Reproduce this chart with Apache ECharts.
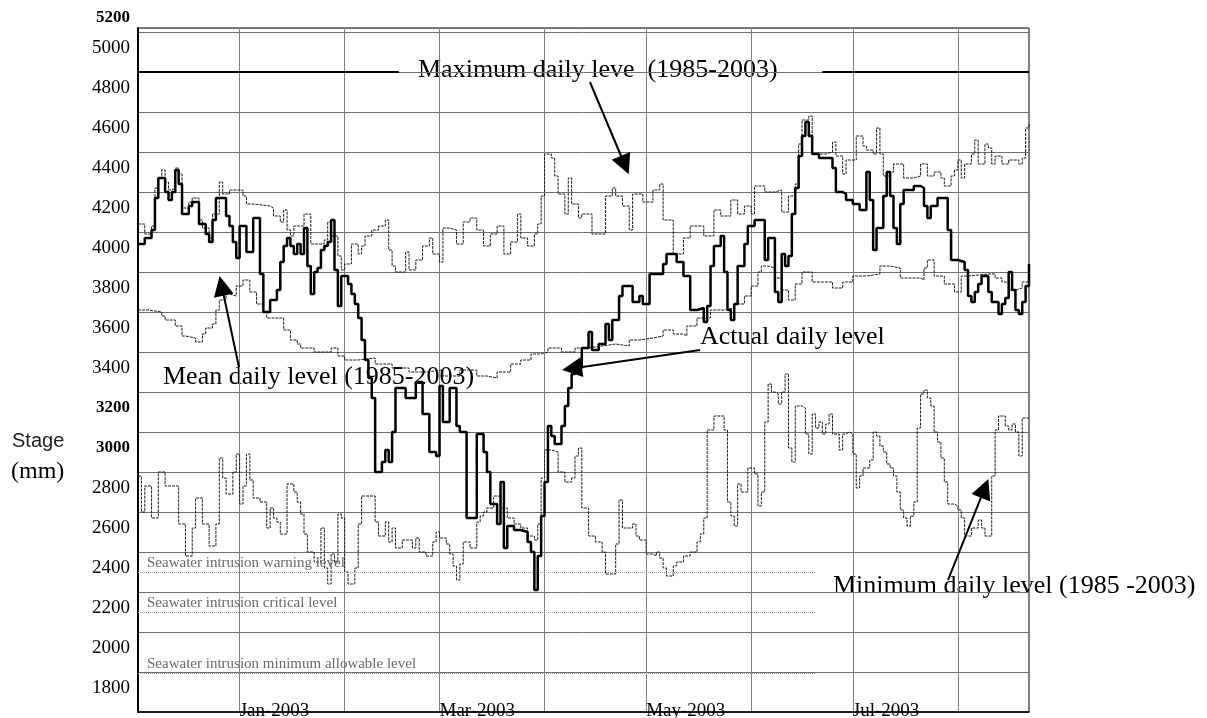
<!DOCTYPE html>
<html>
<head>
<meta charset="utf-8">
<script src="https://cdn.jsdelivr.net/npm/echarts@6/dist/echarts.min.js"></script>
<style>
  html, body { margin: 0; padding: 0; background: #fff; }
  #chart { width: 1207px; height: 718px; }
</style>
</head>
<body>
<div id="chart"></div>
<script>
// days counted from 2 Dec 2002, levels in mm
let actualDays = [0, 2, 4, 5, 6, 8, 9, 10, 11, 12, 13, 15, 16, 18, 20, 21, 22, 23, 26, 27, 28, 29, 30, 32, 34, 36, 37, 39, 41, 42, 43, 44, 45, 46, 47, 48, 49, 50, 51, 52, 53, 54, 55, 56, 57, 58, 59, 60, 62, 63, 64, 65, 66, 67, 68, 69, 70, 72, 73, 74, 75, 76, 79, 82, 84, 86, 88, 89, 90, 92, 94, 95, 97, 100, 102, 103, 104, 106, 107, 108, 109, 111, 113, 115, 116, 117, 118, 119, 120, 121, 122, 123, 125, 126, 127, 128, 129, 131, 133, 134, 136, 138, 139, 140, 142, 143, 146, 148, 149, 151, 155, 156, 159, 161, 163, 165, 167, 168, 169, 170, 172, 173, 174, 175, 176, 177, 179, 180, 182, 185, 186, 188, 189, 190, 191, 192, 193, 194, 195, 196, 197, 198, 199, 201, 203, 205, 206, 208, 209, 211, 213, 215, 216, 217, 218, 220, 221, 222, 223, 224, 225, 226, 229, 231, 232, 233, 234, 236, 239, 240, 242, 244, 245, 246, 247, 248, 249, 251, 252, 254, 255, 256, 257, 258, 259, 260, 261, 262, 263]
let actualLevels = [4020, 4050, 4090, 4250, 4350, 4280, 4240, 4280, 4390, 4320, 4170, 4210, 4230, 4120, 4070, 4030, 4140, 4250, 4160, 4110, 4030, 3950, 4110, 3980, 4150, 3870, 3680, 3740, 3790, 3930, 4010, 4050, 4010, 3970, 4020, 3970, 4100, 3910, 3770, 3880, 3900, 3990, 4010, 4030, 4140, 3890, 3710, 3860, 3820, 3770, 3720, 3650, 3540, 3440, 3350, 3250, 2880, 2930, 2990, 2930, 3080, 3300, 3250, 3330, 3170, 2980, 2960, 3310, 3130, 3300, 3110, 3080, 2650, 3070, 2980, 2880, 2720, 2620, 2830, 2500, 2610, 2590, 2580, 2530, 2480, 2290, 2460, 2660, 2830, 3110, 3060, 3020, 3110, 3210, 3300, 3370, 3400, 3500, 3580, 3490, 3520, 3620, 3540, 3640, 3760, 3810, 3730, 3760, 3720, 3870, 3920, 3970, 3930, 3860, 3690, 3700, 3630, 3710, 3910, 4010, 4060, 3880, 3690, 3640, 3720, 3910, 4020, 4110, 4140, 3940, 4050, 3780, 3730, 3970, 3910, 3960, 4170, 4300, 4460, 4560, 4630, 4560, 4470, 4450, 4450, 4400, 4280, 4270, 4240, 4220, 4190, 4380, 4240, 3990, 4100, 4260, 4380, 4260, 4100, 4020, 4220, 4290, 4310, 4300, 4210, 4150, 4210, 4250, 4090, 3940, 3930, 3890, 3760, 3730, 3780, 3820, 3860, 3780, 3730, 3670, 3720, 3750, 3880, 3790, 3690, 3670, 3730, 3810, 3920]

let maxDays = [0, 2, 4, 5, 6, 7, 8, 9, 10, 11, 12, 13, 15, 16, 18, 19, 21, 22, 24, 25, 27, 31, 32, 34, 39, 40, 42, 43, 44, 45, 46, 49, 51, 55, 56, 57, 59, 60, 61, 63, 65, 66, 67, 69, 71, 73, 74, 75, 76, 79, 80, 82, 84, 86, 87, 89, 90, 92, 94, 96, 98, 100, 102, 104, 106, 108, 110, 112, 113, 115, 117, 118, 119, 120, 122, 123, 124, 126, 127, 128, 130, 131, 134, 138, 140, 141, 143, 145, 146, 149, 152, 154, 155, 158, 161, 163, 167, 170, 172, 175, 177, 179, 181, 182, 185, 188, 190, 192, 194, 195, 196, 198, 199, 203, 205, 206, 208, 209, 212, 214, 215, 217, 218, 219, 220, 222, 223, 226, 229, 231, 233, 235, 237, 238, 240, 241, 242, 243, 244, 246, 247, 248, 250, 251, 252, 253, 255, 257, 260, 261, 262, 263]
let maxLevels = [4120, 4070, 4110, 4300, 4350, 4390, 4330, 4290, 4300, 4400, 4370, 4200, 4230, 4250, 4140, 4100, 4050, 4170, 4330, 4270, 4290, 4260, 4220, 4210, 4200, 4160, 4130, 4190, 4090, 4060, 4110, 4170, 4020, 4040, 4130, 4060, 3960, 3890, 3920, 4020, 3970, 4010, 4060, 4090, 4110, 4140, 3990, 3910, 3880, 3980, 3890, 3940, 4010, 4050, 3970, 3930, 4100, 4090, 4020, 4130, 4150, 4090, 4010, 4070, 4110, 3970, 4030, 4170, 4050, 4010, 4070, 4120, 4260, 4470, 4450, 4360, 4270, 4170, 4350, 4220, 4150, 4170, 4070, 4260, 4300, 4260, 4210, 4090, 4270, 4230, 4290, 4320, 4140, 3970, 4050, 4110, 4060, 4190, 4160, 4240, 4170, 4210, 4170, 4310, 4280, 4290, 4180, 4260, 4320, 4520, 4640, 4660, 4470, 4480, 4530, 4460, 4370, 4440, 4560, 4510, 4490, 4470, 4600, 4470, 4360, 4380, 4420, 4350, 4360, 4420, 4360, 4380, 4350, 4310, 4360, 4390, 4440, 4350, 4420, 4470, 4540, 4420, 4520, 4500, 4420, 4460, 4420, 4440, 4420, 4450, 4600, 4620]

let meanDays = [0, 3, 7, 8, 11, 13, 14, 17, 19, 20, 22, 23, 24, 26, 27, 29, 31, 33, 35, 37, 38, 43, 45, 47, 48, 52, 57, 59, 61, 65, 70, 75, 80, 85, 90, 95, 100, 103, 106, 110, 113, 116, 119, 121, 125, 129, 133, 137, 141, 145, 148, 152, 155, 158, 161, 162, 165, 169, 173, 176, 179, 181, 183, 184, 186, 188, 190, 192, 194, 196, 199, 203, 205, 208, 211, 215, 219, 222, 225, 228, 231, 232, 233, 235, 238, 241, 243, 245, 251, 253, 255, 257, 259, 261, 263]
let meanLevels = [3690, 3680, 3660, 3640, 3610, 3560, 3550, 3530, 3570, 3600, 3620, 3690, 3740, 3770, 3760, 3810, 3840, 3780, 3720, 3680, 3650, 3590, 3540, 3520, 3500, 3480, 3500, 3460, 3440, 3450, 3420, 3400, 3380, 3390, 3360, 3390, 3360, 3350, 3380, 3420, 3440, 3470, 3480, 3500, 3480, 3500, 3510, 3520, 3510, 3540, 3550, 3560, 3590, 3570, 3560, 3610, 3650, 3690, 3700, 3720, 3760, 3810, 3880, 3910, 3900, 3850, 3790, 3740, 3820, 3880, 3830, 3830, 3800, 3830, 3860, 3870, 3910, 3900, 3850, 3850, 3840, 3900, 3940, 3860, 3820, 3780, 3860, 3870, 3870, 3850, 3830, 3790, 3800, 3830, 3900]

let minDays = [0, 1, 2, 4, 6, 8, 12, 14, 16, 17, 19, 21, 23, 24, 25, 26, 28, 29, 30, 31, 32, 33, 34, 36, 38, 39, 40, 41, 42, 44, 46, 47, 48, 49, 50, 52, 54, 55, 56, 57, 58, 59, 60, 61, 62, 64, 65, 66, 70, 71, 73, 74, 75, 76, 78, 81, 82, 83, 85, 87, 88, 89, 91, 92, 93, 94, 95, 96, 98, 100, 101, 102, 103, 105, 107, 109, 111, 113, 115, 117, 118, 119, 120, 122, 124, 126, 128, 129, 130, 131, 133, 135, 137, 138, 141, 142, 143, 146, 147, 148, 150, 152, 153, 154, 155, 156, 158, 159, 161, 163, 165, 166, 167, 168, 170, 173, 174, 175, 176, 177, 178, 180, 182, 183, 184, 185, 186, 187, 188, 189, 190, 191, 192, 193, 194, 196, 197, 198, 199, 200, 201, 202, 203, 204, 205, 207, 208, 209, 210, 211, 212, 213, 214, 216, 217, 218, 219, 220, 221, 222, 223, 224, 225, 226, 227, 228, 229, 230, 231, 232, 233, 234, 235, 236, 237, 238, 239, 241, 242, 243, 244, 246, 248, 249, 250, 252, 253, 254, 256, 257, 258, 259, 260, 261, 263]
let minLevels = [2860, 2680, 2810, 2650, 2880, 2810, 2620, 2460, 2600, 2750, 2620, 2510, 2620, 2950, 2850, 2770, 2880, 2970, 2720, 2810, 2970, 2840, 2750, 2730, 2600, 2700, 2650, 2630, 2570, 2820, 2780, 2730, 2670, 2570, 2480, 2430, 2600, 2400, 2320, 2470, 2430, 2670, 2650, 2380, 2320, 2400, 2620, 2760, 2630, 2560, 2630, 2530, 2600, 2500, 2540, 2500, 2550, 2480, 2460, 2530, 2580, 2550, 2520, 2470, 2410, 2340, 2420, 2530, 2500, 2630, 2660, 2680, 2700, 2760, 2700, 2650, 2620, 2600, 2560, 2540, 2620, 2850, 2990, 2980, 2880, 2830, 2850, 2960, 3000, 2700, 2560, 2530, 2480, 2370, 2520, 2740, 2600, 2620, 2560, 2540, 2470, 2460, 2480, 2450, 2400, 2360, 2410, 2430, 2460, 2480, 2530, 2570, 2650, 3090, 3160, 3090, 2730, 2660, 2610, 2820, 2780, 2900, 2870, 2710, 2780, 3130, 3320, 3280, 3270, 3220, 3280, 3370, 3000, 2930, 3210, 3200, 3070, 2970, 3170, 3100, 3130, 3070, 3120, 3170, 3070, 2990, 3070, 3080, 3070, 2970, 2800, 2860, 2900, 2940, 3080, 3060, 3010, 2980, 2920, 2900, 2860, 2780, 2690, 2650, 2610, 2660, 2730, 3100, 3270, 3290, 3250, 3210, 3080, 3030, 2950, 2830, 2720, 2710, 2690, 2650, 2560, 2600, 2640, 2600, 2560, 2860, 3090, 3160, 3110, 3090, 3120, 3080, 2960, 3150, 3150]

// seawater intrusion reference levels
let seawaterNames = ['Seawater intrusion warning level', 'Seawater intrusion critical level', 'Seawater intrusion minimum allowable level']
let seawaterLevels = [2380, 2180, 1875]

// tick labels
let yTickValues = [1800, 2000, 2200, 2400, 2600, 2800, 3000, 3200, 3400, 3600, 3800, 4000, 4200, 4400, 4600, 4800, 5000]
let yBoldTicks = [3000, 3200]
let xLabelMonths = ['Jan-2003', 'Mar-2003', 'May-2003', 'Jul-2003']
let monthNames = ['Jan', 'Feb', 'Mar', 'Apr', 'May', 'Jun', 'Jul', 'Aug', 'Sep', 'Oct', 'Nov', 'Dec']

// arrows: [fromDay, fromLevel, toDay, toLevel]
let arrowLines = [
  [133.4, 4830, 143.7, 4415],
  [29.8, 3405, 24.7, 3811],
  [165.9, 3490, 128.1, 3397],
  [239.1, 2340, 249.9, 2798]
]

const baseTime = new Date(2002, 11, 2).getTime()
const dayMs = 864e5
function toDate(d) {
  return baseTime + d * dayMs
}
function pairs(days, levels) {
  return days.map((d, i) => [toDate(d), levels[i]])
}

let myChart = echarts.init(document.getElementById('chart'))
const serif = '"Liberation Serif", "DejaVu Serif", serif'
const thinLine = { color: '#1e1e1e', width: 1, type: [3, 1] }

let option = {
  animation: false,
  backgroundColor: '#fff',
  grid: {
    left: 138,
    right: 178,
    top: 28,
    bottom: 6,
    containLabel: false,
    outerBoundsMode: 'none',
    show: true,
    borderColor: '#000',
    borderWidth: 1
  },
  xAxis: {
    type: 'time',
    min: toDate(0),
    max: toDate(263),
    splitNumber: 9,
    minInterval: 28 * dayMs,
    maxInterval: 31 * dayMs,
    axisLine: { lineStyle: { color: '#000', width: 1.5 } },
    axisTick: { show: false },
    axisLabel: {
      margin: -10,
      align: 'left',
      color: '#000',
      fontFamily: serif,
      fontSize: 19,
      hideOverlap: false,
      formatter: function (value) {
        let dt = new Date(value)
        let txt = monthNames[dt.getMonth()] + '-' + dt.getFullYear()
        return xLabelMonths.indexOf(txt) >= 0 && dt.getDate() === 1 ? txt : ''
      }
    },
    splitLine: { show: true, lineStyle: { color: '#808080', width: 1 } }
  },
  yAxis: {
    type: 'value',
    min: 1680,
    max: 5100,
    interval: 200,
    axisLine: { show: true, lineStyle: { color: '#000', width: 2 } },
    axisTick: { show: false },
    axisLabel: {
      customValues: yTickValues,
      margin: 8,
      color: '#000',
      fontFamily: serif,
      fontSize: 19,
      formatter: function (v) {
        return yBoldTicks.indexOf(v) >= 0 ? '{b|' + v + '}' : String(v)
      },
      rich: {
        b: { fontFamily: serif, fontSize: 17, fontWeight: 'bold', color: '#000' }
      }
    },
    splitLine: { show: true, lineStyle: { color: '#707070', width: 1 } }
  },
  graphic: [
    { type: 'text', x: 130, y: 18, style: { text: '5200', align: 'right', verticalAlign: 'middle', font: 'bold 17px ' + serif, fill: '#000' } },
    { type: 'text', x: 12, y: 441, style: { text: 'Stage', align: 'left', verticalAlign: 'middle', font: '20px "Liberation Sans", Arial, sans-serif', fill: '#222' } },
    { type: 'text', x: 11, y: 472, style: { text: '(mm)', align: 'left', verticalAlign: 'middle', font: '24px ' + serif, fill: '#000' } },
    { type: 'text', x: 418, y: 70, style: { text: 'Maximum daily leve  (1985-2003)', align: 'left', verticalAlign: 'middle', font: '26px ' + serif, fill: '#000' } },
    { type: 'text', x: 163, y: 377, style: { text: 'Mean daily level (1985-2003)', align: 'left', verticalAlign: 'middle', font: '26px ' + serif, fill: '#000' } },
    { type: 'text', x: 700, y: 337, style: { text: 'Actual daily level', align: 'left', verticalAlign: 'middle', font: '26px ' + serif, fill: '#000' } },
    { type: 'text', x: 833, y: 586, style: { text: 'Minimum daily level (1985 -2003)', align: 'left', verticalAlign: 'middle', font: '26px ' + serif, fill: '#000' } }
  ],
  series: [
    {
      name: 'Seawater levels',
      type: 'line',
      data: [],
      silent: true,
      markLine: {
        silent: true,
        symbol: 'none',
        lineStyle: { color: '#9a9a9a', type: 'dotted', width: 1 },
        label: {
          show: true,
          position: 'insideStartTop',
          formatter: '{b}',
          distance: [9, 1],
          color: '#6a6a6a',
          fontFamily: serif,
          fontSize: 15
        },
        data: seawaterLevels.map((v, i) => [
          { name: seawaterNames[i], coord: [toDate(0), v] },
          { coord: [toDate(200), v] }
        ])
      }
    },
    {
      name: 'Maximum daily level',
      type: 'line',
      step: 'end',
      symbol: 'none',
      silent: true,
      z: 3,
      lineStyle: thinLine,
      data: pairs(maxDays, maxLevels),
      markLine: {
        silent: true,
        symbol: 'none',
        label: { show: false },
        lineStyle: { color: '#000', width: 2, type: 'solid' },
        data: [
          [{ coord: [toDate(0), 4880] }, { coord: [toDate(77), 4880] }],
          [{ coord: [toDate(202), 4880] }, { coord: [toDate(263), 4880] }]
        ]
      }
    },
    {
      name: 'Mean daily level',
      type: 'line',
      step: 'end',
      symbol: 'none',
      silent: true,
      z: 3,
      lineStyle: thinLine,
      data: pairs(meanDays, meanLevels)
    },
    {
      name: 'Minimum daily level',
      type: 'line',
      step: 'end',
      symbol: 'none',
      silent: true,
      z: 3,
      lineStyle: thinLine,
      data: pairs(minDays, minLevels)
    },
    {
      name: 'Actual daily level',
      type: 'line',
      step: 'end',
      symbol: 'none',
      silent: true,
      z: 5,
      lineStyle: { color: '#000', width: 2.5 },
      data: pairs(actualDays, actualLevels)
    },
    {
      name: 'Arrows',
      type: 'line',
      data: [],
      silent: true,
      z: 6,
      markLine: {
        silent: true,
        symbol: ['none', 'triangle'],
        symbolSize: 20,
        label: { show: false },
        lineStyle: { color: '#000', width: 2, type: 'solid' },
        itemStyle: { color: '#000' },
        data: arrowLines.map(a => [
          { coord: [toDate(a[0]), a[1]] },
          { coord: [toDate(a[2]), a[3]] }
        ])
      }
    }
  ]
}
myChart.setOption(option)
</script>
</body>
</html>
